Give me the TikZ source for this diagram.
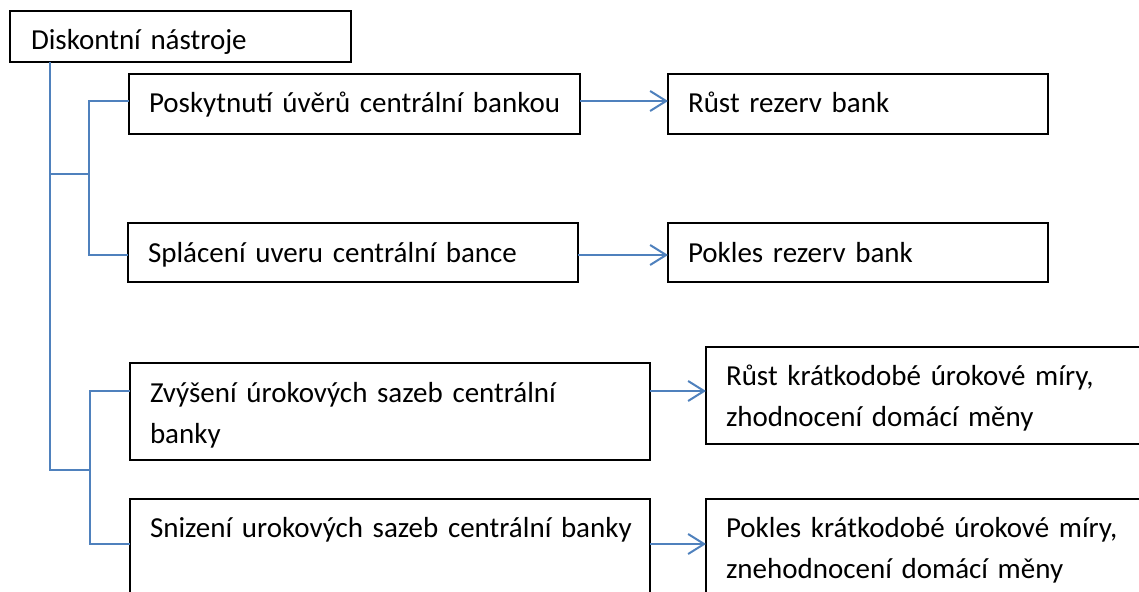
\documentclass[tikz,border=0pt]{standalone}
\usepackage{fontspec}
\setmainfont{Carlito}
\usetikzlibrary{arrows.meta}
\definecolor{linkblue}{RGB}{79,129,189}

\begin{document}
\begin{tikzpicture}
[x=1pt,y=-1pt,>={Straight Barb[length=16pt,width=20pt]},
box/.style={draw,line width=1.4pt,anchor=north west,outer sep=0pt,inner xsep=20pt,inner ysep=0pt,text height=39pt,font=\fontsize{29}{41}\selectfont,execute at begin node=\raggedright},
link/.style={draw=linkblue,line width=2pt},]

\clip (0,0) rectangle (1139,591);

\node (root) at (10,11)[box,inner xsep=21pt,text width=299pt,text depth=12pt]{Diskontní nástroje};

\node (A1) at (129,74)[box,text width=411pt,text depth=21pt]{\mbox{Poskytnutí úvěrů centrální bankou}};
\node (R1) at (668,74)[box,text width=340pt,text depth=21pt]{Růst rezerv bank};
\node (A2) at (128,223)[box,text width=410pt,text depth=20pt]{Splácení uveru centrální bance};
\node (R2) at (668,223)[box,text width=340pt,text depth=20pt]{Pokles rezerv bank};

\node (B1) at (130,363)[box,text width=480pt,text depth=58pt]{Zvýšení úrokových sazeb centrální\\banky};
\node (R3) at (706,347)[box,text height=38pt,text width=420pt,text depth=59pt]{Růst krátkodobé úrokové míry,\\zhodnocení domácí měny};
\node (B2) at (130,499)[box,text height=38pt,text width=480pt,text depth=59pt]{\mbox{Snizení urokových sazeb centrální banky}};
\node (R4) at (706,499)[box,text height=38pt,text width=420pt,text depth=59pt]{Pokles krátkodobé úrokové míry,\\znehodnocení domácí měny};

% junctions of the tree
\coordinate (j1) at (50,174);
\coordinate (j2) at (50,470);
\coordinate (b1) at (89,101);
\coordinate (b2) at (89,255);
\coordinate (b3) at (90,391);
\coordinate (b4) at (90,544);

\draw[link] (root.south -| j1) -- (j2) -- (j2 -| b3);
\draw[link] (j1) -- (j1 -| b1);
\draw[link] (b1 -| A1.west) -- (b1) -- (b2) -- (b2 -| A2.west);
\draw[link] (b3 -| B1.west) -- (b3) -- (b4) -- (b4 -| B2.west);

\draw[link,->] (b1 -| A1.east) -- (b1 -| R1.west);
\draw[link,->] (b2 -| A2.east) -- (b2 -| R2.west);
\draw[link,->] (b3 -| B1.east) -- (b3 -| R3.west);
\draw[link,->] (b4 -| B2.east) -- (b4 -| R4.west);

\end{tikzpicture}
\end{document}
